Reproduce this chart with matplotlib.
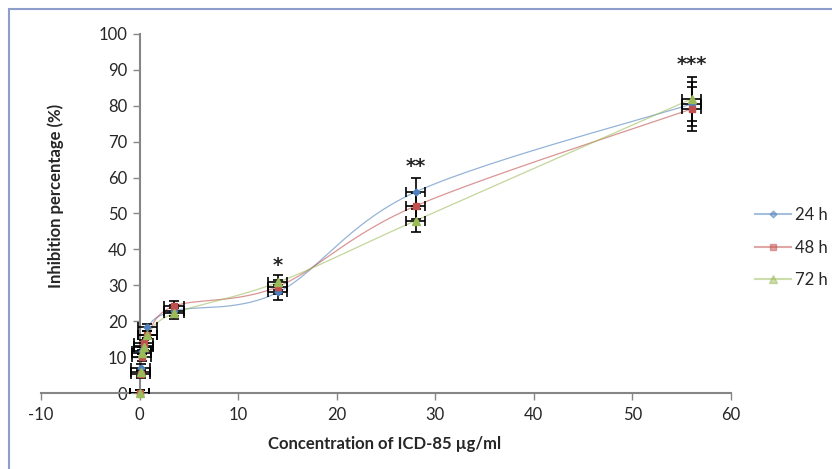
import numpy as np
import matplotlib
matplotlib.use("Agg")
import matplotlib.pyplot as plt
from matplotlib.lines import Line2D
from matplotlib.patches import Rectangle

plt.rcParams['font.family'] = ['Lato', 'DejaVu Sans']
plt.rcParams['axes.unicode_minus'] = False

# concentration of ICD-85 (ug/ml)
conc = [0, 0.1, 0.2, 0.4, 0.8, 3.5, 14, 28, 56]
conc_err = [1, 1, 1, 1, 1, 1, 1, 1, 1]

inhib_24h = [0, 7.0, 11.8, 13.0, 18.3, 22.9, 28.0, 56.0, 80.5]
inhib_48h = [0, 5.2, 9.9, 13.8, 16.2, 24.2, 29.6, 52.1, 79.1]
inhib_72h = [0, 5.8, 11.1, 12.9, 16.2, 22.2, 30.8, 48.0, 81.9]

err_24h = [0.8, 1.0, 1.0, 1.0, 1.0, 1.5, 2.0, 4.0, 6.0]
err_48h = [0.8, 1.0, 1.0, 1.0, 1.0, 1.5, 2.0, 3.5, 6.0]
err_72h = [0.8, 1.0, 1.0, 1.0, 1.0, 1.5, 2.0, 3.2, 6.0]

labels = ["24 h", "48 h", "72 h"]
colors = ["#4F81BD", "#C0504D", "#9BBB59"]
markers = ["D", "s", "^"]
msizes = [3.5, 5, 5.5]

stars = ["*", "**", "***"]
star_x = [14, 28, 56]
star_y = [35.5, 63.0, 91.5]

XLIM = (-10, 60)
YLIM = (0, 100)


def smooth(x, y, n=30):
    """Excel-like smoothed line (Bezier, tension 1/6) in screen-ish space"""
    sx = (np.asarray(x, float) - XLIM[0]) / (XLIM[1] - XLIM[0]) * 690
    sy = (np.asarray(y, float) - YLIM[0]) / (YLIM[1] - YLIM[0]) * 359
    P = np.column_stack([sx, sy])
    out = [P[0]]
    for i in range(len(P) - 1):
        p0 = P[i - 1] if i > 0 else P[i]
        p3 = P[i + 2] if i + 2 < len(P) else P[i + 1]
        c1 = P[i] + (P[i + 1] - p0) / 6
        c2 = P[i + 1] - (p3 - P[i]) / 6
        t = np.linspace(0, 1, n)[1:, None]
        seg = ((1 - t) ** 3 * P[i] + 3 * (1 - t) ** 2 * t * c1
               + 3 * (1 - t) * t ** 2 * c2 + t ** 3 * P[i + 1])
        out.extend(seg)
    out = np.array(out)
    xs = out[:, 0] / 690 * (XLIM[1] - XLIM[0]) + XLIM[0]
    ys = out[:, 1] / 359 * (YLIM[1] - YLIM[0]) + YLIM[0]
    return xs, ys


fig = plt.figure(figsize=(8.32, 4.69), dpi=100)
ax = fig.add_axes([41 / 832, 1 - 393 / 469, 690 / 832, 359 / 469])

series = [inhib_24h, inhib_48h, inhib_72h]
errs = [err_24h, err_48h, err_72h]

for vals, c in zip(series, colors):
    xs, ys = smooth(conc, vals)
    ax.plot(xs, ys, color=c, lw=0.9, alpha=0.6, zorder=2)

for vals, e in zip(series, errs):
    ax.errorbar(conc, vals, yerr=e, xerr=conc_err, fmt='none', ecolor='black',
                elinewidth=1.2, capsize=3.5, capthick=1.2, zorder=3)

for vals, c, m, ms in zip(series, colors, markers, msizes):
    ax.plot(conc, vals, linestyle='none', marker=m, markersize=ms, color=c,
            markeredgecolor=c, zorder=4, clip_on=False)

for s, x, y in zip(stars, star_x, star_y):
    ax.text(x, y, s, ha='center', va='center', fontsize=14, color='#262626',
            fontweight='bold', family=['DejaVu Sans'])

ax.set_xlim(*XLIM)
ax.set_ylim(*YLIM)
ax.set_xticks(np.arange(-10, 61, 10))
ax.set_yticks(np.arange(0, 101, 10))

for side in ['top', 'right']:
    ax.spines[side].set_visible(False)
ax.spines['left'].set_position(('data', 0))
for side in ['left', 'bottom']:
    ax.spines[side].set_color('#868686')
    ax.spines[side].set_linewidth(1.5)
ax.tick_params(axis='both', colors='#868686', labelcolor='#262626',
               labelsize=12, length=5, width=1)
ax.tick_params(axis='y', pad=4)
ax.tick_params(axis='x', pad=5)

ylab = fig.text(56 / 832, 1 - 196 / 469, "Inhibition percentage (%)", rotation=90,
                ha='center', va='center', fontsize=12, fontweight='bold', color='#262626')
xlab = fig.text(385 / 832, 1 - 444 / 469, "Concentration of ICD-85 \u00b5g/ml",
                ha='center', va='center', fontsize=12, fontweight='bold', color='#262626')

# fit the axis titles to the width they take in the reference
fig.canvas.draw()
r = fig.canvas.get_renderer()
w = xlab.get_window_extent(r).width
fs = 12 * 232 / w
xlab.set_fontsize(fs)
ylab.set_fontsize(fs)

handles = [Line2D([0], [0], color=c, lw=1.5, alpha=0.5, marker=m,
                  markersize=ms, markerfacecolor=c, markeredgecolor=c)
           for c, m, ms in zip(colors, markers, msizes)]
fig.legend(handles, labels, loc='center left', bbox_to_anchor=(755 / 832, 1 - 247.5 / 469),
           frameon=False, fontsize=12, handlelength=2.15, handletextpad=0.25,
           labelspacing=1.0, labelcolor='#262626', borderpad=0, borderaxespad=0)

fig.patches.append(Rectangle((9 / 832, -0.1), 1.2, 1.1 - 9 / 469,
                             transform=fig.transFigure, fill=False,
                             edgecolor='#8E9ECB', lw=1.5))

fig.savefig("out.png", dpi=100)
